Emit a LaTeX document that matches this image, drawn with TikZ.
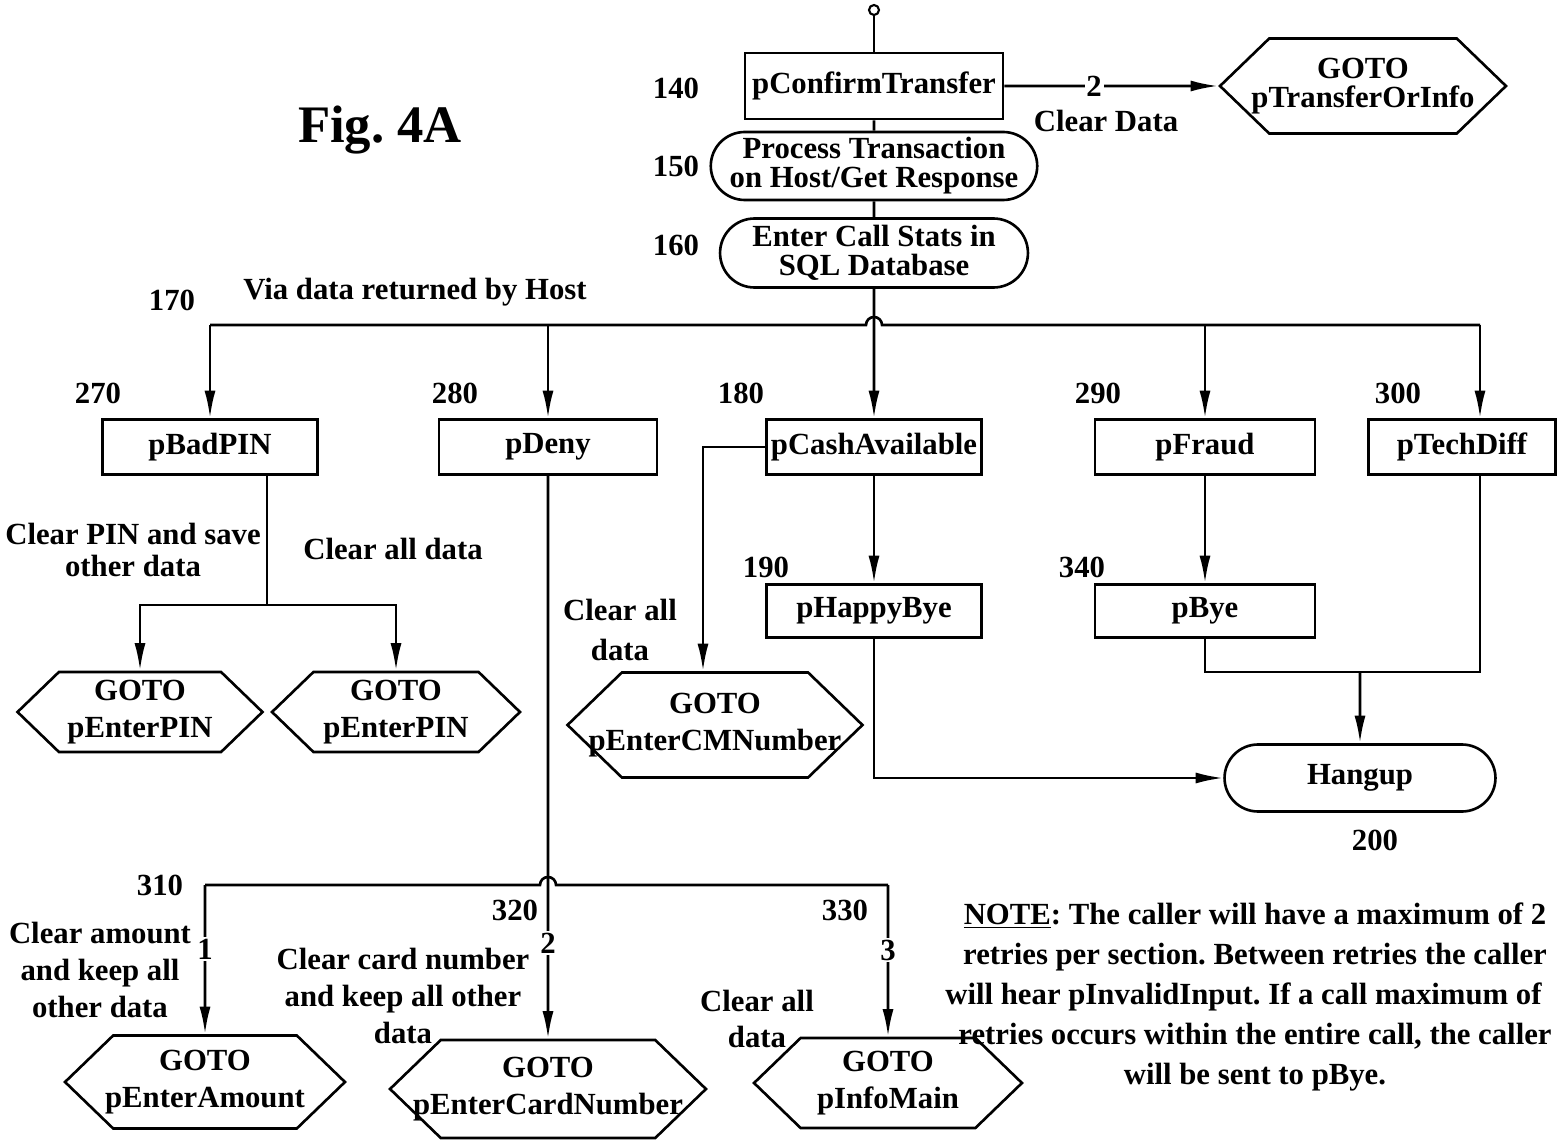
\documentclass[tikz,border=0pt]{standalone}
\usepackage{fontspec}
\setmainfont{Liberation Serif}
\usetikzlibrary{arrows.meta,shapes.misc,shapes.symbols}

\begin{document}
\frenchspacing
\begin{tikzpicture}[x=0.02cm,y=-0.02cm,line width=1.5pt]

    \tikzset{
      stepbox/.style={draw, rectangle, minimum width=4.3cm, minimum height=1.1cm,
        inner sep=2pt, font=\fontsize{17.5}{19}\selectfont\bfseries},
      procbox/.style={draw, rounded rectangle, inner sep=2pt, align=center,
        font=\fontsize{17.5}{16.5}\selectfont\bfseries},
      gotobox/.style={draw, signal, signal to=west and east, signal pointer angle=88,
        inner ysep=1pt, inner xsep=-0.7cm, align=center, font=\fontsize{17.5}{21}\selectfont\bfseries},
      reflab/.style={font=\fontsize{17.5}{19}\selectfont\bfseries},
      notelab/.style={align=center, font=\fontsize{17.5}{21}\selectfont\bfseries},
      numlab/.style={fill=white, inner sep=1pt, font=\fontsize{17.5}{19}\selectfont\bfseries},
      arr/.style={-{Latex[length=0.55cm,width=0.22cm]}},
    }
    \useasboundingbox (0,0) rectangle (1560,1142);

    % top of the chart
    \node[draw, circle, inner sep=0pt, minimum size=0.2cm, line width=1.2pt] (start) at (874,10) {};
    \node[stepbox, minimum width=5.16cm, minimum height=1.32cm] (confirm) at (874,86) {pConfirmTransfer};
    \node[gotobox, minimum width=5.72cm, minimum height=1.9cm, font=\fontsize{17.5}{16.5}\selectfont\bfseries] (gotoTrans) at (1363,86) {GOTO\\pTransferOrInfo};
    \node[procbox, minimum width=6.5cm, minimum height=1.36cm] (process) at (874,166) {Process Transaction\\on Host/Get Response};
    \node[procbox, minimum width=6.3cm, minimum height=1.38cm] (stats) at (874,253) {Enter Call Stats in\\SQL Database};

    \node[reflab] at (676,88) {140};
    \node[reflab] at (676,166) {150};
    \node[reflab] at (676,245) {160};
    \node[reflab] at (1106,121) {Clear Data};
    \node[font=\fontsize{30}{34}\selectfont\bfseries] at (380,130) {Fig. 4A};
    \node[reflab] at (172,300) {170};
    \node[reflab] at (415,292) {Via data returned by Host};

    \draw (start) -- (confirm);
    \draw (confirm) -- (process);
    \draw (process) -- (stats);
    \draw[arr] (confirm) -- node[numlab,pos=0.42] {2} (gotoTrans);

    % second row
    \node[stepbox] (badpin) at (210,447) {pBadPIN};
    \node[stepbox, minimum width=4.36cm] (deny) at (548,447) {pDeny};
    \node[stepbox] (cash) at (874,447) {pCashAvailable};
    \node[stepbox, minimum width=4.4cm] (fraud) at (1205,447) {pFraud};
    \node[stepbox, minimum width=3.74cm] (techdiff) at (1462,447) {pTechDiff};
    \node[reflab] at (98,393) {270};
    \node[reflab] at (455,393) {280};
    \node[reflab] at (741,393) {180};
    \node[reflab] at (1098,393) {290};
    \node[reflab] at (1398,393) {300};

    \coordinate (busL) at (210,325);
    \coordinate (busR) at (1480,325);
    \draw (busL) -- (866,325) arc[start angle=180, end angle=0, radius=0.16cm] -- (busR);
    \draw[arr] (busL) -- (badpin);
    \draw[arr] (deny |- busL) -- (deny);
    \draw[arr] (stats) -- (cash);
    \draw[arr] (fraud |- busL) -- (fraud);
    \draw[arr] (busR) -- (busR |- techdiff.north);

    % pBadPIN branch
    \node[gotobox, minimum width=4.9cm, minimum height=1.6cm] (pin1) at (140,712) {GOTO\\pEnterPIN};
    \node[gotobox, minimum width=4.96cm, minimum height=1.6cm] (pin2) at (396,712) {GOTO\\pEnterPIN};
    \node[notelab, font=\fontsize{17.5}{18.5}\selectfont\bfseries] at (133,550) {Clear PIN and save\\other data};
    \node[reflab] at (393,549) {Clear all data};
    \coordinate (pinsplit) at (267,605);
    \draw (badpin.south -| pinsplit) -- (pinsplit);
    \draw[arr] (pinsplit) -| (pin1);
    \draw[arr] (pinsplit) -| (pin2);

    % pCashAvailable branch
    \node[gotobox, minimum width=5.9cm, minimum height=2.1cm] (cmnum) at (715,725) {GOTO\\pEnterCMNumber};
    \node[notelab, font=\fontsize{17.5}{22.5}\selectfont\bfseries] at (620,630) {Clear all\\data};
    \node[stepbox, minimum height=1.06cm] (happybye) at (874,611) {pHappyBye};
    \node[reflab] at (766,567) {190};
    \draw[arr] (cash.west) -| ([xshift=-0.24cm]cmnum.north);
    \draw[arr] (cash) -- (happybye);

    % pFraud / pTechDiff to hangup
    \node[stepbox, minimum width=4.4cm, minimum height=1.06cm] (bye) at (1205,611) {pBye};
    \node[reflab] at (1082,567) {340};
    \node[procbox, minimum width=5.56cm, minimum height=1.34cm] (hangup) at (1360,778) {Hangup};
    \node[reflab] at (1375,840) {200};
    \coordinate (merge) at (1360,672);
    \draw[arr] (fraud) -- (bye);
    \draw (bye) |- (busR |- merge) -- (busR |- techdiff.south);
    \draw[arr] (merge) -- (hangup);
    \draw[arr] (happybye) |- (hangup);

    % pDeny branch
    \node[gotobox, minimum width=5.6cm, minimum height=1.86cm] (amount) at (205,1082) {GOTO\\pEnterAmount};
    \node[gotobox, minimum width=6.32cm, minimum height=1.96cm] (cardnum) at (548,1089) {GOTO\\pEnterCardNumber};
    \node[gotobox, minimum width=5.36cm, minimum height=1.8cm] (infomain) at (888,1083) {GOTO\\pInfoMain};
    \node[reflab] at (160,885) {310};
    \node[reflab] at (515,910) {320};
    \node[reflab] at (845,910) {330};
    \node[notelab] at (100,970) {Clear amount\\and keep all\\other data};
    \node[notelab] at (403,996) {Clear card number\\and keep all other\\data};
    \node[notelab] at (757,1019) {Clear all\\data};

    \coordinate (lbL) at (205,885);
    \coordinate (lbR) at (888,885);
    \draw (lbL) -- (540,885) arc[start angle=180, end angle=0, radius=0.16cm] -- (lbR);
    \draw[arr] (deny) -- node[numlab,pos=0.83] {2} (cardnum);
    \draw[arr] (lbL) -- node[numlab,pos=0.43] {1} (amount);
    \draw[arr] (lbR) -- node[numlab,pos=0.43] {3} (infomain);

    % note
    \node[notelab, font=\fontsize{17.5}{22.7}\selectfont\bfseries] at (1255,997)
      {\underline{NOTE}: The caller will have a maximum of 2\\
       retries per section. Between retries the caller\\
       will hear pInvalidInput. If a call maximum of\hphantom{ 2}\\
       retries occurs within the entire call, the caller\\
       will be sent to pBye.};

\end{tikzpicture}
\end{document}
